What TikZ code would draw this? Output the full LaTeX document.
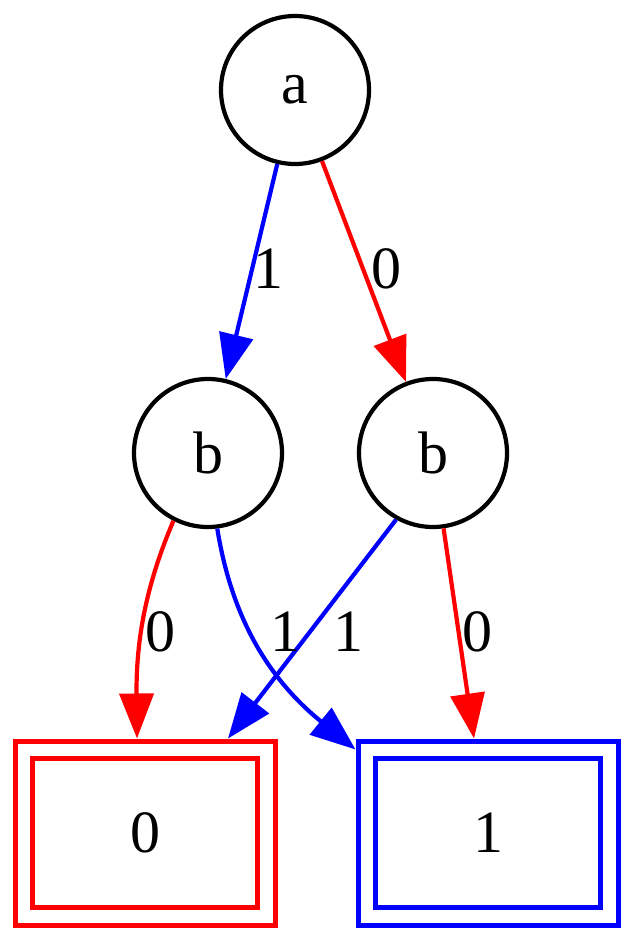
\documentclass[tikz,border=0pt]{standalone}
\usepackage{fontspec}
\setmainfont{Liberation Serif}
\usetikzlibrary{arrows.meta}
\begin{document}
\begin{tikzpicture}[x=1pt,y=-1pt,
  every node/.style={font=\fontsize{60}{64}\selectfont},
  st/.style={circle,draw=black,line width=4.2pt,minimum size=148pt,inner sep=0pt},
  outerbox/.style={draw,line width=5pt,minimum width=260pt,minimum height=184pt,inner sep=0pt},
  innerbox/.style={draw,line width=4.2pt,minimum width=225pt,minimum height=149pt,inner sep=0pt},
  ebase/.style={line width=4.2pt,-{Triangle[length=45pt,width=34pt]}},
  lbl/.style={inner sep=0pt}]
\useasboundingbox (0,0) rectangle (634,942);
\node[st] (a) at (295,90) {a};
\node[st] (bl) at (208,453) {b};
\node[st] (br) at (433,453) {b};
\node[outerbox,draw=red] (z0) at (145,833) {};
\node[innerbox,draw=red] (z0i) at (145,833) {0};
\node[outerbox,draw=blue] (z1) at (488,833) {};
\node[innerbox,draw=blue] (z1i) at (488,833) {1};
\draw[ebase,blue] (a) -- (bl);
\draw[ebase,red] (a) -- (br);
\draw[ebase,red] (bl.243) .. controls (146,585) and (136,640) .. ([xshift=-8pt]z0.north);
\draw[ebase,blue] (bl.277) .. controls (232,620) and (270,680) .. ([yshift=-11pt]z1.north west);
\draw[ebase,blue] (br.241) -- ([xshift=83pt]z0.north);
\draw[ebase,red] (br.278) -- ([xshift=-14pt]z1.north);
\node[lbl] (l1) at (268,269) {1};
\node[lbl] (l2) at (386,269) {0};
\node[lbl] (l3) at (160,632) {0};
\node[lbl] (l4) at (285,632) {1};
\node[lbl] (l5) at (348,632) {1};
\node[lbl] (l6) at (477,632) {0};
\end{tikzpicture}
\end{document}
